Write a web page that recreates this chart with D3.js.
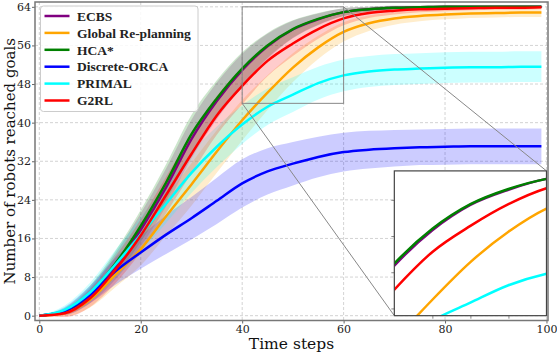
<!DOCTYPE html>
<html><head><meta charset="utf-8">
<script src="https://cdn.jsdelivr.net/npm/d3@7"></script>
<style>body{margin:0;background:#fff}svg{display:block}</style>
</head><body>
<svg id="chart" width="557" height="352"></svg>
<script>
const steps = [0,5,10,15,20,25,30,35,40,45,50,55,60,65,70,75,80,85,90,95,99];
const seriesNames = ["ECBS","Global Re-planning","HCA*","Discrete-ORCA","PRIMAL","G2RL"];
const seriesColors = ["#800080","#FFA500","#008000","#0000FF","#00FFFF","#FF0000"];
const ecbsMean   = [0,0.8,4.2,10.2,17.8,26.6,36.6,44.5,50.9,55.8,59.3,61.4,62.9,63.5,63.8,63.9,64.0,64.0,64.0,64.0,64.0];
const globalMean = [0,0.5,3.3,8.5,13.8,20.6,27.2,34.0,40.5,46.2,51.4,55.6,58.8,60.6,61.6,62.1,62.4,62.6,62.7,62.8,62.8];
const hcaMean    = [0,1.0,4.6,10.8,18.6,27.6,37.6,45.0,51.2,56.0,59.4,61.5,62.9,63.5,63.8,63.9,64.0,64.0,64.0,64.0,64.0];
const orcaMean   = [0,1.0,4.4,9.2,13.1,16.8,20.2,23.8,27.4,29.9,31.5,32.9,33.9,34.4,34.7,34.9,35.0,35.1,35.1,35.1,35.1];
const primalMean = [0,1.2,4.8,10.6,16.8,23.2,29.6,35.0,39.6,43.3,45.8,48.2,49.8,50.6,51.0,51.2,51.4,51.5,51.5,51.6,51.6];
const g2rlMean   = [0,0.5,3.6,9.5,16.6,25.0,33.5,41.5,47.6,52.8,56.4,59.4,61.6,62.7,63.2,63.5,63.6,63.7,63.8,63.8,63.9];
const ecbsStd    = [0,0.6,1.6,2.7,3.4,3.9,4.0,3.8,3.4,2.6,1.8,1.2,0.8,0.5,0.4,0.3,0.3,0.2,0.2,0.2,0.2];
const globalStd  = [0,0.6,1.6,2.6,3.4,4.0,4.4,4.4,4.2,3.6,3.0,2.4,2.0,1.6,1.3,1.1,1.0,0.9,0.9,0.9,0.9];
const hcaStd     = [0,0.6,1.6,2.6,3.3,3.8,4.0,3.8,3.4,2.6,1.8,1.2,0.8,0.5,0.4,0.3,0.3,0.2,0.2,0.2,0.2];
const orcaStd    = [0,0.8,1.8,2.8,3.4,4.0,4.4,4.8,5.0,4.8,4.5,4.2,4.0,3.9,3.8,3.7,3.7,3.7,3.7,3.7,3.7];
const primalStd  = [0,0.9,2.0,3.0,3.6,4.0,4.2,4.2,4.0,3.8,3.6,3.4,3.3,3.2,3.2,3.2,3.2,3.2,3.2,3.2,3.2];
const g2rlStd    = [0,0.8,1.8,2.8,3.4,3.8,4.0,4.0,3.8,3.2,2.6,2.0,1.4,1.0,0.8,0.6,0.5,0.4,0.4,0.4,0.4];
const xTicks = [0,20,40,60,80,100];
const yTicks = [0,8,16,24,32,40,48,56,64];
const insetXTicks = [45,50,55];
const insetYTicks = [45,50,55,60];

const means = [ecbsMean, globalMean, hcaMean, orcaMean, primalMean, g2rlMean];
const stds = [ecbsStd, globalStd, hcaStd, orcaStd, primalStd, g2rlStd];
const series = seriesNames.map((n,i)=>({name:n,color:seriesColors[i],
  pts: steps.map((t,j)=>({t, m:means[i][j], s:stds[i][j]}))}));

const svg = d3.select("#chart");
const L=35, R=548, T=2, B=320.5;
const x = d3.scaleLinear().domain([-0.85,100.3]).range([L,R]);
const y = d3.scaleLinear().domain([-1.0,65.0]).range([B,T]);
const serif = "'DejaVu Serif', serif";

// grid
const grid = svg.append("g");
grid.selectAll("line.gx").data(xTicks).join("line")
  .attr("x1",d=>x(d)).attr("x2",d=>x(d)).attr("y1",T).attr("y2",B)
  .attr("stroke","#c8c8c8").attr("stroke-width",0.8).attr("stroke-dasharray","3,2");
grid.selectAll("line.gy").data(yTicks).join("line")
  .attr("y1",d=>y(d)).attr("y2",d=>y(d)).attr("x1",L).attr("x2",R)
  .attr("stroke","#c8c8c8").attr("stroke-width",0.8).attr("stroke-dasharray","3,2");

const curve = d3.curveMonotoneX;
const area = d3.area().curve(curve).x(d=>x(d.t)).y0(d=>y(d.m-d.s)).y1(d=>y(d.m+d.s));
const line = d3.line().curve(curve).x(d=>x(d.t)).y(d=>y(d.m));

const plot = svg.append("g");
plot.selectAll("path.band").data(series).join("path")
  .attr("d",d=>area(d.pts)).attr("fill",d=>d.color).attr("fill-opacity",0.2);
plot.selectAll("path.ln").data(series).join("path")
  .attr("d",d=>line(d.pts)).attr("fill","none").attr("stroke",d=>d.color).attr("stroke-width",2.5);

// axes
const xAxis = d3.axisBottom(x).tickValues(xTicks).tickSize(3).tickPadding(2);
const yAxis = d3.axisLeft(y).tickValues(yTicks).tickSize(3).tickPadding(1);
const gx = svg.append("g").attr("transform",`translate(0,${B})`).call(xAxis);
const gy = svg.append("g").attr("transform",`translate(${L},0)`).call(yAxis);
[gx,gy].forEach(g=>{
  g.select(".domain").remove();
  g.selectAll("line").attr("stroke","#666");
  g.selectAll("text").attr("font-family",serif).attr("font-size",11).attr("fill","#222");
});

// frame
svg.append("rect").attr("x",L).attr("y",T).attr("width",R-L).attr("height",B-T)
  .attr("fill","none").attr("stroke","#777").attr("stroke-width",1.5);

// labels
svg.append("text").attr("x",(L+R)/2).attr("y",349).attr("text-anchor","middle")
  .attr("font-family",serif).attr("font-size",15.5).attr("fill","#111").text("Time steps");
svg.append("text").attr("transform",`translate(15,${(T+B)/2}) rotate(-90)`).attr("text-anchor","middle")
  .attr("font-family",serif).attr("font-size",15).attr("fill","#111").text("Number of robots reached goals");

// legend
const lg = svg.append("g");
lg.append("rect").attr("x",40.5).attr("y",6).attr("width",157.5).attr("height",105.5).attr("rx",3)
  .attr("fill","#fff").attr("fill-opacity",0.85).attr("stroke","#ccc").attr("stroke-width",1);
const items = lg.selectAll("g.it").data(series).join("g")
  .attr("transform",(d,i)=>`translate(0,${16+i*16.9})`);
items.append("line").attr("x1",44.5).attr("x2",69.5).attr("stroke",d=>d.color).attr("stroke-width",2.5);
items.append("text").attr("x",77).attr("dy","0.35em").attr("font-family","'Liberation Serif', serif")
  .attr("font-weight","bold").attr("font-size",13.5).attr("fill","#222").text(d=>d.name);

// inset
const ix0=40, ix1=60, iy0=44, iy1=64;
const iL=x(70), iR=x(100), iT=y(30), iB=y(0);
// indicator rectangle and connectors
svg.append("rect").attr("x",x(ix0)).attr("y",y(iy1)).attr("width",x(ix1)-x(ix0)).attr("height",y(iy0)-y(iy1))
  .attr("fill","none").attr("stroke","#888").attr("stroke-width",1);
svg.append("line").attr("x1",x(ix1)).attr("y1",y(iy1)).attr("x2",iR).attr("y2",iT).attr("stroke","#888").attr("stroke-width",1);
svg.append("line").attr("x1",x(ix0)).attr("y1",y(iy0)).attr("x2",iL).attr("y2",iB).attr("stroke","#888").attr("stroke-width",1);

const xi = d3.scaleLinear().domain([ix0,ix1]).range([iL,iR]);
const yi = d3.scaleLinear().domain([iy0,iy1]).range([iB,iT]);
const ig = svg.append("g");
ig.append("rect").attr("x",iL).attr("y",iT).attr("width",iR-iL).attr("height",iB-iT).attr("fill","#fff");
ig.append("clipPath").attr("id","ic").append("rect").attr("x",iL).attr("y",iT).attr("width",iR-iL).attr("height",iB-iT);
const iline = d3.line().curve(curve).x(d=>xi(d.t)).y(d=>yi(d.m));
ig.append("g").attr("clip-path","url(#ic)").selectAll("path").data(series).join("path")
  .attr("d",d=>iline(d.pts)).attr("fill","none").attr("stroke",d=>d.color).attr("stroke-width",2.5);
ig.append("g").attr("transform",`translate(0,${iB})`).call(d3.axisBottom(xi).tickValues(insetXTicks).tickSize(3).tickFormat(""))
  .call(g=>{g.select(".domain").remove(); g.selectAll("line").attr("stroke","#888");});
ig.append("g").attr("transform",`translate(${iL},0)`).call(d3.axisLeft(yi).tickValues(insetYTicks).tickSize(3).tickFormat(""))
  .call(g=>{g.select(".domain").remove(); g.selectAll("line").attr("stroke","#888");});
ig.append("rect").attr("x",iL).attr("y",iT).attr("width",iR-iL).attr("height",iB-iT)
  .attr("fill","none").attr("stroke","#444").attr("stroke-width",1.2);
</script>
</body></html>
